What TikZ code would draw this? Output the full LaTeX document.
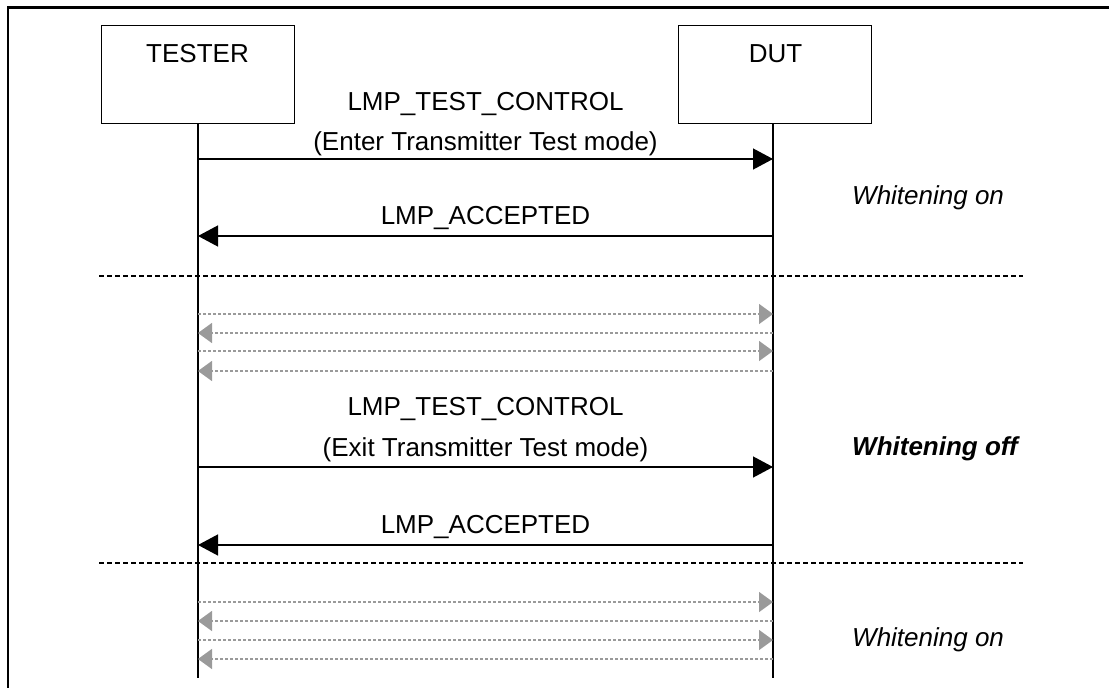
\documentclass[tikz,border=0pt]{standalone}
\usepackage{fontspec}
\setmainfont{Liberation Sans}
\usetikzlibrary{arrows.meta}
\definecolor{ghostgray}{HTML}{9A9A9A}
\begin{document}
\begin{tikzpicture}[x=1pt,y=-1pt,
  every node/.style={font=\fontsize{26}{30}\selectfont, inner sep=0pt},
  actor/.style={draw, line width=1.3pt, minimum width=193pt, minimum height=98pt, anchor=north west},
  lifeline/.style={line width=1.3pt},
  msg/.style={line width=1.3pt, -{Triangle[length=20pt,width=21pt]}},
  ghost/.style={ghostgray, line width=1.5pt, dash pattern=on 3pt off 2pt, -{Triangle[length=14pt,width=20pt,fill=ghostgray]}},
  sep/.style={line width=1.6pt, dash pattern=on 5pt off 3pt},
  lbl/.style={anchor=base},
  note/.style={anchor=base west, font=\fontsize{26}{30}\selectfont\itshape}]
\useasboundingbox (0,0) rectangle (1109,688);
% frame
\draw[line width=2.5pt] (8,688) -- (8,7.5) -- (1109,7.5);
% actors
\node[actor] (tester) at (101,25) {};
\node[lbl] (testerlbl) at (197.5,62) {TESTER};
\node[actor] (dut) at (678,25) {};
\node[lbl] (dutlbl) at (775.5,62) {DUT};
% lifelines
\coordinate (ttop) at (198,123);
\coordinate (tend) at (198,678);
\coordinate (dtop) at (773,123);
\coordinate (dend) at (773,678);
\draw[lifeline] (ttop) -- (tend);
\draw[lifeline] (dtop) -- (dend);
% message anchor points
\foreach \n/\y in {m1/159, m2/236, m3/467, m4/545,
                   g1/314, g2/333, g3/351, g4/371,
                   g5/602, g6/621, g7/640, g8/659} {
  \coordinate (T\n) at (198,\y);
  \coordinate (D\n) at (773,\y);
}
% messages
\node[lbl] (c1) at (485.5,110) {LMP\_TEST\_CONTROL};
\node[lbl] (c1b) at (485.5,150) {(Enter Transmitter Test mode)};
\draw[msg] (Tm1) -- (Dm1);
\node[lbl] (a1) at (485.5,224) {LMP\_ACCEPTED};
\draw[msg] (Dm2) -- (Tm2);
\node[note] (w1) at (852,204) {Whitening on};
% separators
\coordinate (s1l) at (99,276);
\coordinate (s1r) at (1023,276);
\draw[sep] (s1l) -- (s1r);
% test traffic
\draw[ghost] (Tg1) -- (Dg1);
\draw[ghost] (Dg2) -- (Tg2);
\draw[ghost] (Tg3) -- (Dg3);
\draw[ghost] (Dg4) -- (Tg4);
% exit
\node[lbl] (c2) at (485.5,415) {LMP\_TEST\_CONTROL};
\node[lbl] (c2b) at (485.5,456) {(Exit Transmitter Test mode)};
\draw[msg] (Tm3) -- (Dm3);
\node[note, font=\fontsize{26}{30}\selectfont\bfseries\itshape] (w2) at (852,455) {Whitening off};
\node[lbl] (a2) at (485.5,533) {LMP\_ACCEPTED};
\draw[msg] (Dm4) -- (Tm4);
\coordinate (s2l) at (99,563);
\coordinate (s2r) at (1023,563);
\draw[sep] (s2l) -- (s2r);
\draw[ghost] (Tg5) -- (Dg5);
\draw[ghost] (Dg6) -- (Tg6);
\draw[ghost] (Tg7) -- (Dg7);
\draw[ghost] (Dg8) -- (Tg8);
\node[note] (w3) at (852,646) {Whitening on};
\end{tikzpicture}
\end{document}
